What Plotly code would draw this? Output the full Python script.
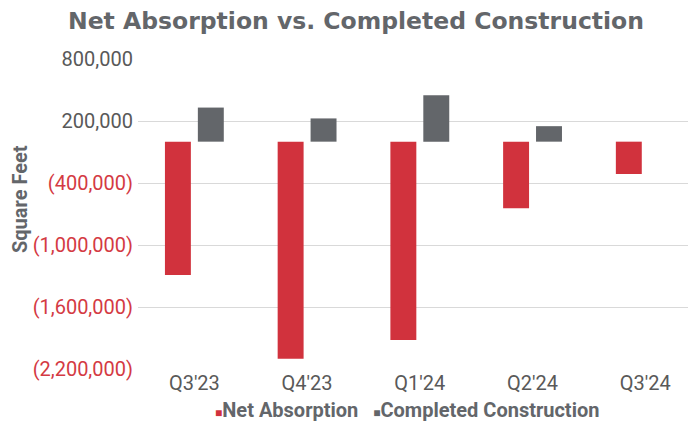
import plotly.graph_objects as go

categories = ["Q3'23", "Q4'23", "Q1'24", "Q2'24", "Q3'24"]
net_absorption = [-1290000, -2100000, -1920000, -645000, -313000]
completed_construction = [330000, 225000, 450000, 150000, 0]
series_names = ["Net Absorption", "Completed Construction"]
series_colors = ["#d1323d", "#63666a"]
tick_values = [800000, 200000, -400000, -1000000, -1600000, -2200000]
y_range = [-2200000, 800000]

LABEL_GRAY = "#595959"
NEG_RED = "#d43a43"
FONT = "Roboto"
OFF = 8  # page body margin

W, H = 696 - OFF, 425 - OFF


def fmt(v):
    if v < 0:
        return f"<span style='color:{NEG_RED}'>({abs(v):,})</span>"
    return f"{v:,}"


tick_text = [fmt(v) for v in tick_values]

fig = go.Figure()
fig.add_trace(go.Bar(x=categories, y=net_absorption, name=series_names[0],
                     marker=dict(color=series_colors[0], line=dict(width=0)),
                     showlegend=False))
fig.add_trace(go.Bar(x=categories, y=completed_construction, name=series_names[1],
                     marker=dict(color=series_colors[1], line=dict(width=0)),
                     showlegend=False))

n = len(categories)
x_range = [-0.5, n - 0.55]
zero_pos = (0 - y_range[0]) / (y_range[1] - y_range[0])

legend_text = "   ".join(
    f"<span style='color:{c};font-size:12px'>■</span>{nm}"
    for nm, c in zip(series_names, series_colors)
)

fig.update_layout(
    width=W, height=H,
    margin=dict(l=138 - OFF, r=0, t=59 - OFF, b=H - (369 - OFF)),
    paper_bgcolor="white", plot_bgcolor="white",
    barmode="group", bargap=0.416, bargroupgap=0.212,
    title=dict(text="<b>Net Absorption vs. Completed Construction</b>",
               x=(356 - OFF) / W, xanchor="center", y=1 - (21 - OFF) / H, yanchor="middle",
               font=dict(family="DejaVu Sans", size=23.5, color="#63666a")),
    xaxis=dict(type="category", range=x_range, showline=False, showgrid=False,
               ticks="", zeroline=False,
               tickfont=dict(family=FONT, size=20, color=LABEL_GRAY)),
    xaxis2=dict(overlaying="x", anchor="free", position=zero_pos, side="bottom",
                range=x_range, tickvals=[i - 0.5 for i in range(n + 1)],
                showticklabels=False, ticks="outside", ticklen=3,
                tickcolor="#d9d9d9", tickwidth=1, showline=True,
                linecolor="#d9d9d9", linewidth=1, showgrid=False, zeroline=False),
    yaxis=dict(range=y_range, tickvals=tick_values, ticktext=tick_text,
               showgrid=True, gridcolor="#d9d9d9", gridwidth=1, zeroline=False,
               showline=False, ticks="", ticklabelstandoff=4,
               tickfont=dict(family=FONT, size=20, color=LABEL_GRAY)),
    annotations=[
        dict(text="<b>Square Feet</b>", textangle=-90, xref="paper", yref="paper",
             x=(20 - 138) / 558, y=(369 - 199) / 310, xanchor="center", yanchor="middle",
             showarrow=False, font=dict(family=FONT, size=20, color="#63666a")),
        dict(text=f"<b>{legend_text}</b>", xref="paper", yref="paper",
             x=(407 - 138) / 558, y=(369 - 410) / 310, xanchor="center", yanchor="middle",
             showarrow=False, font=dict(family=FONT, size=20, color="#63666a")),
    ],
)

fig.write_html("out.html")
